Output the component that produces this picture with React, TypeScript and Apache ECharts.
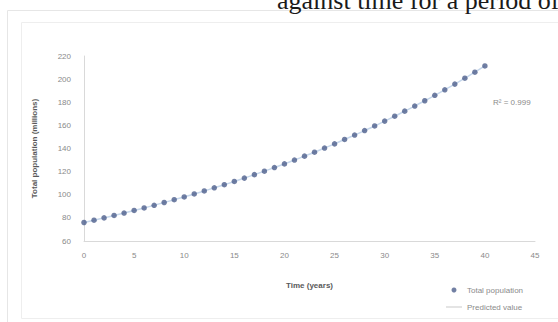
import React, { useEffect, useRef } from "react";
import * as echarts from "echarts";

const years: number[] = [
  0, 1, 2, 3, 4, 5, 6, 7, 8, 9, 10, 11, 12, 13, 14, 15, 16, 17, 18, 19, 20,
  21, 22, 23, 24, 25, 26, 27, 28, 29, 30, 31, 32, 33, 34, 35, 36, 37, 38, 39, 40,
];
const totalPopulation: number[] = [
  76.0, 78.0, 80.0, 82.1, 84.2, 86.4, 88.6, 90.9, 93.3, 95.7, 98.1,
  100.7, 103.3, 106.0, 108.7, 111.5, 114.4, 117.4, 120.4, 123.5, 126.7,
  130.0, 133.4, 136.8, 140.4, 144.0, 147.8, 151.6, 155.5, 159.5, 163.7,
  167.9, 172.3, 176.7, 181.3, 186.0, 190.8, 195.7, 200.8, 206.0, 211.4,
];
const predictedValue: number[] = [
  76.0, 78.0, 80.0, 82.1, 84.2, 86.4, 88.6, 90.9, 93.3, 95.7, 98.1,
  100.7, 103.3, 106.0, 108.7, 111.5, 114.4, 117.4, 120.4, 123.5, 126.7,
  130.0, 133.4, 136.8, 140.4, 144.0, 147.8, 151.6, 155.5, 159.5, 163.7,
  167.9, 172.3, 176.7, 181.3, 186.0, 190.8, 195.7, 200.8, 206.0, 211.4,
];
const xTicks = { min: 0, max: 45, interval: 5 };
const yTicks = { min: 60, max: 220, interval: 20 };
const rSquared = "R² = 0.999";
const pageText = "against time for a period of";

export default function App() {
  const ref = useRef<HTMLDivElement>(null);
  useEffect(() => {
    if (!ref.current) return;
    const chart = echarts.init(ref.current, undefined, { renderer: "svg" });
    const font = "Liberation Sans";
    const labelColor = "#8a8a8a";
    chart.setOption({
      animation: false,
      backgroundColor: "#ffffff",
      textStyle: { fontFamily: font },
      grid: { left: 84, right: 23, top: 56, bottom: 81 },
      xAxis: {
        type: "value",
        min: xTicks.min,
        max: xTicks.max,
        interval: xTicks.interval,
        name: "Time (years)",
        nameLocation: "middle",
        nameGap: 40,
        nameTextStyle: { color: "#595959", fontSize: 8, fontWeight: "bold", fontFamily: font },
        axisLine: { lineStyle: { color: "#d9d9d9", width: 1 } },
        axisTick: { show: false },
        axisLabel: { color: labelColor, fontSize: 8, margin: 10 },
        splitLine: { show: false },
      },
      yAxis: {
        type: "value",
        min: yTicks.min,
        max: yTicks.max,
        interval: yTicks.interval,
        name: "Total population (millions)",
        nameLocation: "middle",
        nameGap: 46,
        nameRotate: 90,
        nameTextStyle: { color: "#595959", fontSize: 8, fontWeight: "bold", fontFamily: font },
        axisLine: { show: true, lineStyle: { color: "#d9d9d9", width: 1 } },
        axisTick: { show: false },
        axisLabel: { color: labelColor, fontSize: 8, margin: 13 },
        splitLine: { show: false },
      },
      legend: {
        orient: "vertical",
        left: 441,
        top: 281,
        itemWidth: 16,
        itemHeight: 5,
        itemGap: 9,
        textStyle: { color: labelColor, fontSize: 8, fontFamily: font },
        data: [
          { name: "Total population", icon: "circle" },
          { name: "Predicted value", icon: "path://M0 0H16V1H0Z" },
        ],
      },
      series: [
        {
          name: "Predicted value",
          type: "line",
          symbol: "none",
          smooth: true,
          data: years.map((x, i) => [x, predictedValue[i]]),
          lineStyle: { color: "#c7d8ec", width: 1.5 },
          itemStyle: { color: "#c9c9c9" },
          z: 1,
        },
        {
          name: "Total population",
          type: "scatter",
          symbol: "circle",
          symbolSize: 5.5,
          data: years.map((x, i) => [x, totalPopulation[i]]),
          itemStyle: { color: "#4d5f8c" },
          z: 2,
        },
      ],
      graphic: [
        {
          type: "rect",
          shape: { x: 7.5, y: 10.5, width: 560, height: 320 },
          style: { fill: "none", stroke: "#e6e6e6", lineWidth: 1 },
          silent: true,
        },
        {
          type: "rect",
          shape: { x: 21.5, y: 22.5, width: 560, height: 296 },
          style: { fill: "none", stroke: "#eeeeee", lineWidth: 1 },
          silent: true,
        },
        {
          type: "text",
          x: 277,
          y: -13,
          style: {
            text: pageText,
            fontFamily: "Liberation Serif",
            fontSize: 26,
            fill: "#1a1a1a",
            textVerticalAlign: "top",
          },
        },
        {
          type: "text",
          x: 493,
          y: 102,
          style: {
            text: rSquared,
            fontFamily: font,
            fontSize: 8,
            fill: labelColor,
            textVerticalAlign: "middle",
          },
        },
      ],
    });
    return () => chart.dispose();
  }, []);
  return (
    <div
      ref={ref}
      style={{ position: "fixed", left: 0, top: 0, width: 558, height: 322 }}
    />
  );
}
